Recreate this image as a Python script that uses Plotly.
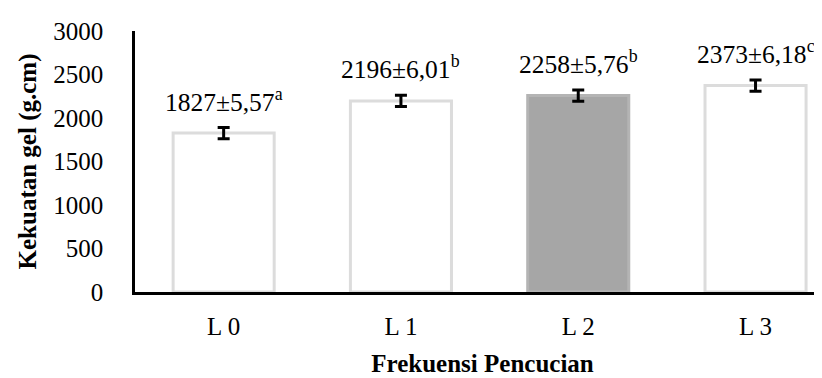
import plotly.graph_objects as go

categories = ["L 0", "L 1", "L 2", "L 3"]
values = [1827, 2196, 2258, 2373]
errors = [65, 65, 65, 65]
labels = ["1827±5,57<sup>a</sup>", "2196±6,01<sup>b</sup>", "2258±5,76<sup>b</sup>", "2373±6,18<sup>c</sup>"]
bar_colors = ["#ffffff", "#ffffff", "#a6a6a6", "#ffffff"]
edge_colors = ["#dcdcdc", "#dcdcdc", "#b4b4b4", "#dcdcdc"]
y_ticks = [0, 500, 1000, 1500, 2000, 2500, 3000]

FONT = "Liberation Serif"

fig = go.Figure()
fig.add_trace(go.Bar(
    x=categories, y=values, width=0.57,
    marker=dict(color=bar_colors, line=dict(color=edge_colors, width=3)),
    error_y=dict(type="data", array=errors, visible=True, color="black", thickness=3, width=6),
))

for c, v, t in zip(categories, values, labels):
    fig.add_annotation(x=c, y=v, text=t, showarrow=False, yanchor="middle", yshift=33,
                       font=dict(family=FONT, size=25.5, color="black"))

fig.update_layout(
    width=822, height=378,
    margin=dict(l=127, r=0, t=23, b=94),
    plot_bgcolor="white", paper_bgcolor="white",
    showlegend=False,
    font=dict(family=FONT, size=25, color="black"),
)
fig.update_xaxes(
    range=[-0.5, 3.42], showline=True, linecolor="black", linewidth=2.5,
    ticks="", showgrid=False, ticklabelstandoff=10,
    tickfont=dict(family=FONT, size=25),
    title=dict(text="<b>Frekuensi Pencucian</b>", font=dict(family=FONT, size=25), standoff=16),
)
fig.update_yaxes(
    range=[0, 3000], tickvals=y_ticks, showline=True, linecolor="black", linewidth=2.5,
    ticks="", showgrid=False, zeroline=False, ticklabelstandoff=24,
    tickfont=dict(family=FONT, size=25),
    title=dict(text="<b>Kekuatan gel (g.cm)</b>", font=dict(family=FONT, size=25), standoff=10),
)

fig.write_html("out.html")
